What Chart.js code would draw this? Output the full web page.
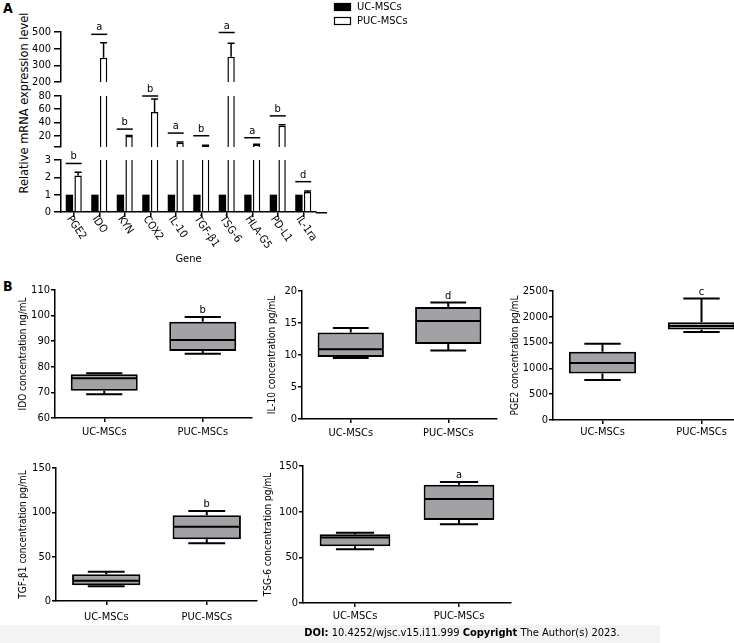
<!DOCTYPE html>
<html>
<head>
<meta charset="utf-8">
<script src="https://cdn.jsdelivr.net/npm/chart.js@4.4.1/dist/chart.umd.min.js"></script>
<style>
  html, body { margin: 0; padding: 0; background: #fff; }
  body { position: relative; width: 734px; height: 643px; overflow: hidden;
         font-family: Tahoma, 'DejaVu Sans Condensed', 'DejaVu Sans', sans-serif; color: #000; }
  canvas { position: absolute; }
  .panel { position: absolute; font-weight: bold; font-size: 14px; line-height: 14px; }
  #ytitleA { position: absolute; left: 22.5px; top: 103px; white-space: nowrap; font-size: 12.7px;
             transform: translate(-50%, -50%) rotate(-90deg); }
  #band { position: absolute; left: 0; top: 625px; width: 660px; height: 18px; background: #f3f3f3; }
  #doi { position: absolute; left: 262px; top: 626px; width: 400px; text-align: center;
         font-size: 11px; line-height: 14px; white-space: nowrap; }
</style>
</head>
<body>
<div class="panel" style="left:3px;top:1px">A</div>
<div class="panel" style="left:3px;top:279px">B</div>
<div id="ytitleA">Relative mRNA expression level</div>

<canvas id="aTop" width="440" height="86" style="left:0;top:0"></canvas>
<canvas id="aMid" width="440" height="74" style="left:0;top:76px"></canvas>
<canvas id="aLow" width="440" height="128" style="left:0;top:140px"></canvas>

<canvas id="bIdo"  width="260" height="164" style="left:0;top:280px"></canvas>
<canvas id="bIl10" width="255" height="165" style="left:250px;top:280px"></canvas>
<canvas id="bPge2" width="275" height="166" style="left:480px;top:280px"></canvas>
<canvas id="bTgf"  width="265" height="169" style="left:0;top:458px"></canvas>
<canvas id="bTsg"  width="280" height="173" style="left:240px;top:456px"></canvas>

<div id="band"></div>
<div id="doi"><b>DOI:</b> 10.4252/wjsc.v15.i11.999 <b>Copyright</b> The Author(s) 2023.</div>

<script>
/* ── Panel A: relative mRNA expression (UC-MSCs = 1) ── */
const genes     = ['PGE2', 'IDO', 'KYN', 'COX2', 'IL-10', 'TGF-β1', 'TSG-6', 'HLA-G5', 'PD-L1', 'IL-1ra'];
const ucLevel   = [1, 1, 1, 1, 1, 1, 1, 1, 1, 1];
const pucLevel  = [2.1, 346, 19.5, 56, 9.5, 5, 352, 6.5, 35, 1.15];
const pucSD     = [0.2, 90, 1, 19.5, 1, 0.6, 80, 0.8, 1.5, 0.06];
const sigLevel  = [2.8, 486, 30, 80, 24, 20, 497, 17, 50, 1.75];
const sigLetter = ['b', 'a', 'b', 'b', 'a', 'b', 'a', 'a', 'b', 'd'];

/* broken y axis, one tick list per segment */
const lowTicks = [0, 1, 2, 3];
const midTicks = [3, 20, 40, 60, 80];
const topTicks = [200, 300, 400, 500];

/* ── Panel B: ELISA, five-number summaries [min, q1, median, q3, max] ── */
const groups  = ['UC-MSCs', 'PUC-MSCs'];
const idoUC   = [69.3, 70.6, 75.5, 77.1, 77.5];
const idoPUC  = [85.1, 86.2, 90.5, 97.6, 99.5];
const il10UC  = [9.55, 9.7, 10.9, 13.5, 14.2];
const il10PUC = [10.7, 11.7, 15.3, 17.5, 18.2];
const pge2UC  = [775, 899, 1105, 1325, 1480];
const pge2PUC = [1705, 1752, 1822, 1893, 2353];
const tgfUC   = [16.7, 17.8, 22.7, 30.2, 32.9];
const tgfPUC  = [65, 69.6, 83.8, 96.7, 101.6];
const tsgUC   = [58.8, 62, 71.6, 75.2, 77];
const tsgPUC  = [86.2, 90.9, 113.9, 129.6, 132.5];

const idoTicks  = [60, 70, 80, 90, 100, 110];
const il10Ticks = [0, 5, 10, 15, 20];
const pge2Ticks = [0, 500, 1000, 1500, 2000, 2500];
const tgfTicks  = [0, 50, 100, 150];
const tsgTicks  = [0, 50, 100, 150];

const FONT = "Tahoma, 'DejaVu Sans Condensed', 'DejaVu Sans', sans-serif";
Chart.defaults.font.family = FONT;
Chart.defaults.font.size = 11;
Chart.defaults.color = '#000';

/* ── plugins ── */
const errorBars = {
  id: 'errorBars',
  afterDatasetsDraw(chart) {
    const { ctx, chartArea: a, scales: { y } } = chart;
    chart.data.datasets.forEach((ds, di) => {
      if (!ds.sd) return;
      const meta = chart.getDatasetMeta(di);
      ctx.save();
      ctx.beginPath();
      ctx.rect(a.left, a.top - 1, a.right - a.left, a.bottom - a.top + 1);
      ctx.clip();
      ctx.strokeStyle = '#000';
      ctx.lineWidth = 1.5;
      meta.data.forEach((bar, i) => {
        const v = ds.data[i];
        if (v == null) return;
        const y0 = y.getPixelForValue(v), y1 = y.getPixelForValue(v + ds.sd[i]);
        ctx.beginPath();
        ctx.moveTo(bar.x, y0); ctx.lineTo(bar.x, y1);
        ctx.moveTo(bar.x - 3.5, y1); ctx.lineTo(bar.x + 3.5, y1);
        ctx.stroke();
      });
      ctx.restore();
    });
  },
};

const sigMarks = {
  id: 'sigMarks',
  afterDatasetsDraw(chart) {
    const { ctx, scales: { x, y } } = chart;
    ctx.save();
    ctx.strokeStyle = ctx.fillStyle = '#000';
    ctx.lineWidth = 1.5;
    ctx.font = `11px ${FONT}`;
    ctx.textAlign = 'center';
    ctx.textBaseline = 'alphabetic';
    sigLevel.forEach((v, i) => {
      if (v < y.min || v > y.max) return;
      const cx = x.getPixelForValue(i), cy = y.getPixelForValue(v);
      ctx.beginPath(); ctx.moveTo(cx - 8, cy); ctx.lineTo(cx + 8, cy); ctx.stroke();
      ctx.fillText(sigLetter[i], cx, cy - 4);
    });
    ctx.restore();
  },
};

const legendA = {
  id: 'legendA',
  afterDraw(chart) {
    const { ctx } = chart;
    ctx.save();
    ctx.font = `11px ${FONT}`;
    ctx.textAlign = 'left';
    ctx.textBaseline = 'middle';
    chart.data.datasets.forEach((ds, i) => {
      const top = 3 + i * 14;
      ctx.fillStyle = ds.backgroundColor;
      ctx.fillRect(334, top, 17, 8);
      ctx.strokeStyle = '#000'; ctx.lineWidth = 1.2;
      ctx.strokeRect(334.5, top + 0.5, 16, 7);
      ctx.fillStyle = '#000';
      ctx.fillText(ds.label, 357, top + 4.5);
    });
    ctx.restore();
  },
};

const geneLabels = {
  id: 'geneLabels',
  afterDraw(chart) {
    const { ctx, chartArea: a, scales: { x } } = chart;
    ctx.save();
    ctx.font = `11px ${FONT}`;
    ctx.fillStyle = '#000';
    ctx.textAlign = 'left';
    ctx.textBaseline = 'middle';
    chart.data.labels.forEach((lab, i) => {
      ctx.save();
      ctx.translate(x.getPixelForValue(i) - 5, a.bottom + 5);
      ctx.rotate(55 * Math.PI / 180);
      ctx.fillText(lab, 0, 0);
      ctx.restore();
    });
    /* axis runs on a little past the last gene */
    ctx.strokeStyle = '#000'; ctx.lineWidth = 1.5;
    ctx.beginPath(); ctx.moveTo(a.right, a.bottom + 0.75); ctx.lineTo(a.right + 11, a.bottom + 0.75); ctx.stroke();
    ctx.restore();
  },
};

const boxWhiskers = {
  id: 'boxWhiskers',
  afterDatasetsDraw(chart) {
    const { ctx, scales: { y } } = chart;
    const ds = chart.data.datasets[0];
    const meta = chart.getDatasetMeta(0);
    const px = v => y.getPixelForValue(v);
    ctx.save();
    ctx.strokeStyle = ctx.fillStyle = '#000';
    ctx.lineWidth = 2;
    meta.data.forEach((box, i) => {
      const [lo, q1, med, q3, hi] = ds.summary[i];
      const half = box.width / 2 - 1, cap = box.width * 0.27;
      ctx.beginPath();
      ctx.moveTo(box.x - half, px(med)); ctx.lineTo(box.x + half, px(med));
      ctx.moveTo(box.x, px(q3)); ctx.lineTo(box.x, px(hi));
      ctx.moveTo(box.x - cap, px(hi)); ctx.lineTo(box.x + cap, px(hi));
      ctx.moveTo(box.x, px(q1)); ctx.lineTo(box.x, px(lo));
      ctx.moveTo(box.x - cap, px(lo)); ctx.lineTo(box.x + cap, px(lo));
      ctx.stroke();
    });
    const last = meta.data.length - 1;
    ctx.font = `11px ${FONT}`;
    ctx.textAlign = 'center';
    ctx.textBaseline = 'alphabetic';
    ctx.fillText(ds.letter, meta.data[last].x, px(ds.summary[last][4]) - 4);
    ctx.restore();
  },
};

/* ── shared axis pieces ── */
const AXIS_BORDER = { color: '#000', width: 1.5 };
const noPad = s => { s.paddingTop = s.paddingBottom = s.paddingLeft = s.paddingRight = 0; };

function segmentChart(id, ticks, opt) {
  const lo = ticks[0], hi = ticks[ticks.length - 1];
  const keep = arr => arr.map(v => (v > lo ? v : null));
  return new Chart(document.getElementById(id), {
    type: 'bar',
    data: {
      labels: genes,
      datasets: [
        { label: 'UC-MSCs', data: keep(ucLevel), backgroundColor: '#000', borderColor: '#000', borderWidth: 0, clip: 0 },
        { label: 'PUC-MSCs', data: keep(pucLevel), sd: pucSD, backgroundColor: '#fff', borderColor: '#000', borderWidth: 1.5, clip: 0 },
      ],
    },
    options: {
      responsive: false,
      animation: false,
      layout: { padding: { top: opt.top, bottom: opt.bottom, left: 0, right: 124 } },
      datasets: { bar: { categoryPercentage: 0.68, barPercentage: 0.85 } },
      plugins: { legend: { display: false }, tooltip: { enabled: false } },
      scales: {
        x: opt.axis ? {
          offset: true,
          afterFit: s => { noPad(s); s.height = 56; },
          border: AXIS_BORDER,
          grid: { drawOnChartArea: false, offset: false, color: '#000', lineWidth: 1.5, tickLength: 5 },
          ticks: { display: false },
          title: { display: true, text: 'Gene', font: { size: 11 }, padding: { top: 0, bottom: 2 } },
        } : { display: false, offset: true },
        y: {
          min: lo, max: hi,
          afterBuildTicks: s => { s.ticks = ticks.map(value => ({ value })); },
          afterFit: s => { noPad(s); s.width = 61; },
          border: AXIS_BORDER,
          grid: { drawOnChartArea: false, color: '#000', lineWidth: 1.5, tickLength: 7 },
          ticks: { padding: 3, autoSkip: false, callback: v => (opt.hideFirst && v === lo ? '' : String(v)) },
        },
      },
    },
    plugins: [errorBars, sigMarks].concat(opt.extra || []),
  });
}

segmentChart('aTop', topTicks, { top: 32, bottom: 4, extra: [legendA] });
segmentChart('aMid', midTicks, { top: 20, bottom: 3, hideFirst: true });
segmentChart('aLow', lowTicks, { top: 20, bottom: 0, axis: true, extra: [geneLabels] });

function boxChart(id, uc, puc, ticks, title, letter, lay) {
  return new Chart(document.getElementById(id), {
    type: 'bar',
    data: {
      labels: groups,
      datasets: [{
        data: [[uc[1], uc[3]], [puc[1], puc[3]]],
        summary: [uc, puc],
        letter,
        backgroundColor: '#a2a2a6',
        borderColor: '#000',
        borderWidth: 2,
        borderSkipped: false,
        categoryPercentage: 0.85,
        barPercentage: 0.8,
      }],
    },
    options: {
      responsive: false,
      animation: false,
      layout: { padding: { top: lay.top, right: lay.right, left: 0, bottom: 0 } },
      plugins: { legend: { display: false }, tooltip: { enabled: false } },
      scales: {
        x: {
          offset: true,
          afterFit: s => { noPad(s); s.height = 26; },
          border: AXIS_BORDER,
          grid: { drawOnChartArea: false, offset: false, color: '#000', lineWidth: 1.5, tickLength: 4 },
          ticks: { padding: lay.lab, maxRotation: 0 },
        },
        y: {
          min: ticks[0], max: ticks[ticks.length - 1],
          afterBuildTicks: s => { s.ticks = ticks.map(value => ({ value })); },
          afterFit: s => { noPad(s); s.width = lay.axis; },
          border: AXIS_BORDER,
          grid: { drawOnChartArea: false, color: '#000', lineWidth: 1.5, tickLength: 4 },
          ticks: { padding: 1, autoSkip: false, callback: v => String(v) },
          title: { display: true, text: title, font: { size: 10 }, padding: { top: lay.title - 6, bottom: 0 } },
        },
      },
    },
    plugins: [boxWhiskers],
  });
}

boxChart('bIdo',  idoUC,  idoPUC,  idoTicks,  'IDO concentration ng/mL',    'b', { top: 10, right: 8, axis: 55, title: 23, lab: 3.5 });
boxChart('bIl10', il10UC, il10PUC, il10Ticks, 'IL-10 concentration pg/mL',  'd', { top: 11, right: 8, axis: 52, title: 22.7, lab: 3.5 });
boxChart('bPge2', pge2UC, pge2PUC, pge2Ticks, 'PGE2 concentration pg/mL',   'c', { top: 11, right: 4, axis: 73, title: 35, lab: 2 });
boxChart('bTgf',  tgfUC,  tgfPUC,  tgfTicks,  'TGF-β1 concentration pg/mL', 'b', { top: 10, right: 8, axis: 56, title: 23, lab: 6 });
boxChart('bTsg',  tsgUC,  tsgPUC,  tsgTicks,  'TSG-6 concentration pg/mL',  'a', { top: 10, right: 9, axis: 63, title: 28, lab: 3 });
</script>
</body>
</html>
